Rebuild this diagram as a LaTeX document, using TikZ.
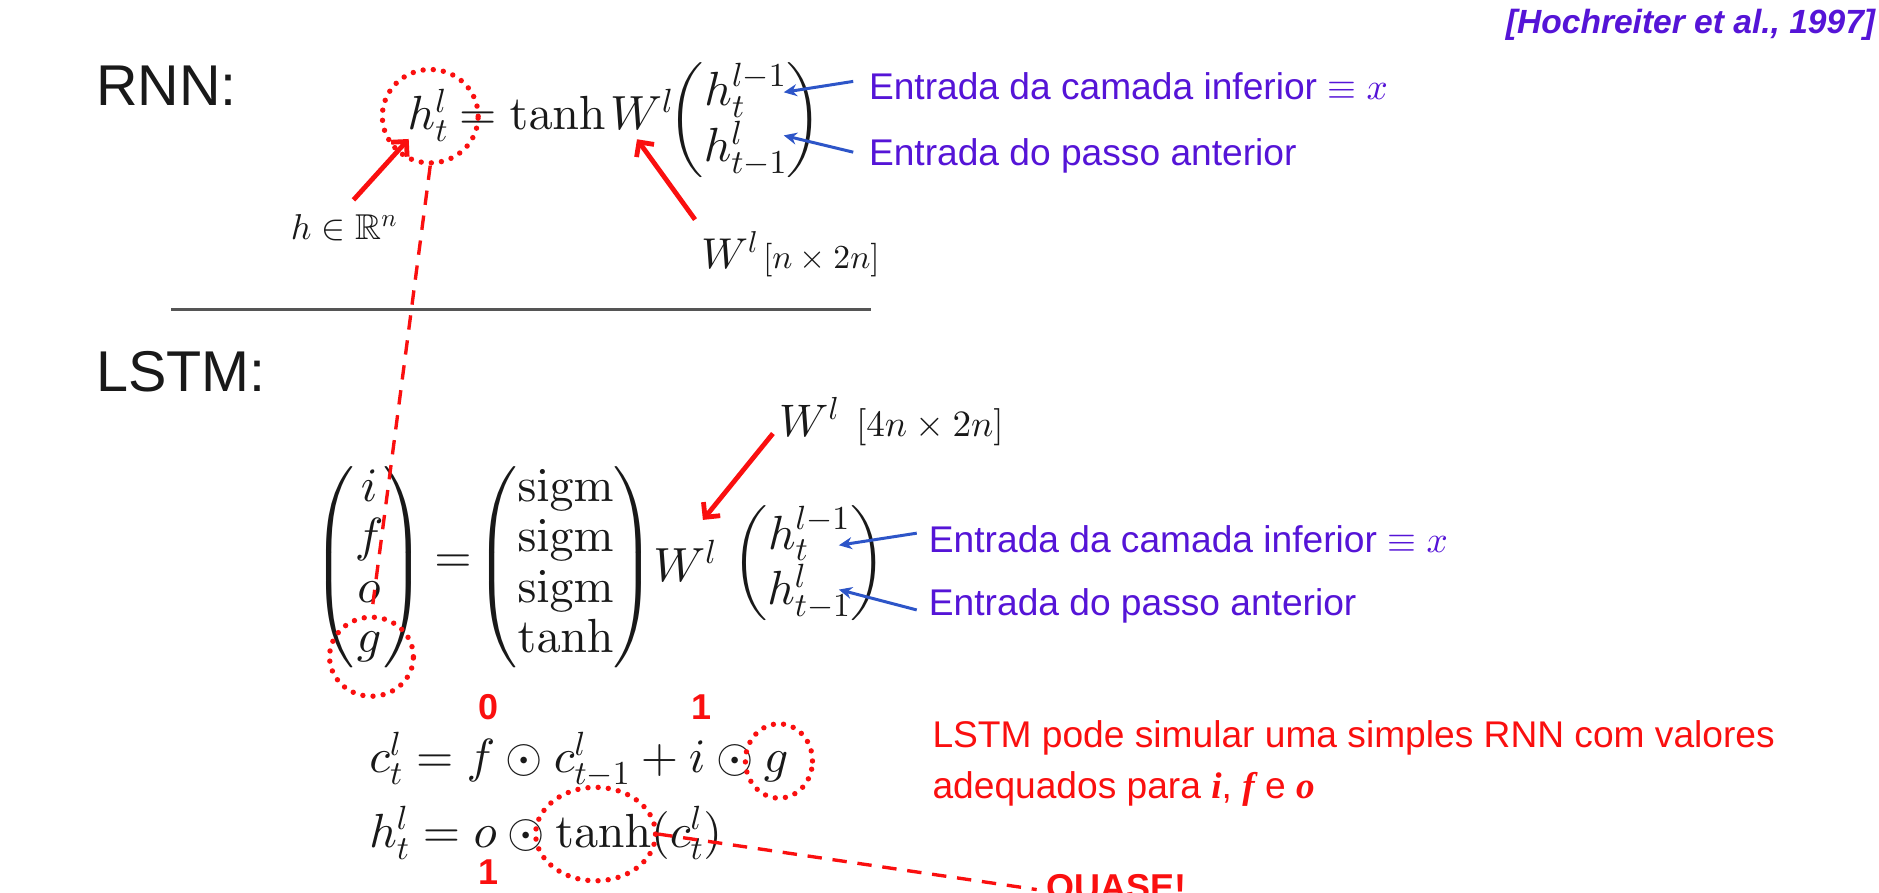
\documentclass[tikz,border=0pt]{standalone}
\usepackage{amsmath,amssymb}
\usepackage[no-math]{fontspec}
\newfontfamily\arial{Liberation Sans}
\newfontfamily\tnr{Liberation Serif}
\DeclareFontShape{OT1}{cmr}{m}{n}{<->cmr10}{}
\DeclareFontShape{OML}{cmm}{m}{it}{<->cmmi10}{}
\DeclareFontShape{OMS}{cmsy}{m}{n}{<->cmsy10}{}
\DeclareFontShape{OMX}{cmex}{m}{n}{<->cmex10}{}
\DeclareFontFamily{U}{msb}{}
\DeclareFontShape{U}{msb}{m}{n}{<->msbm10}{}
\usetikzlibrary{arrows.meta,calc,shapes.geometric}
\definecolor{redA}{RGB}{250,15,15}
\definecolor{blueT}{RGB}{85,20,215}
\definecolor{blueA}{RGB}{45,85,200}
\definecolor{ink}{RGB}{25,25,25}
\definecolor{grayL}{RGB}{85,85,85}
\tikzset{
  mR/.style={inner sep=0pt, text=ink, font=\fontsize{40}{42}\selectfont},
  mB/.style={inner sep=0pt, text=ink, font=\fontsize{40}{42}\selectfont},
  big/.style={inner sep=0pt, text=ink, font=\arial\fontsize{48}{52}\selectfont},
  lbl/.style={inner sep=0pt, text=blueT, font=\arial\fontsize{31}{36}\selectfont},
  rtxt/.style={inner sep=0pt, text=redA, font=\arial\fontsize{31}{36}\selectfont},
  num/.style={inner sep=0pt, text=redA, font=\arial\bfseries\fontsize{30}{32}\selectfont},
  citeT/.style={inner sep=0pt, text=blueT, font=\arial\bfseries\itshape\fontsize{28}{32}\selectfont},
  dotc/.style={ellipse, draw=redA, inner sep=0pt, line width=4.5pt, dash pattern=on 0pt off 8.5pt, line cap=round},
  dashl/.style={draw=redA, line width=2.8pt, dash pattern=on 12pt off 9pt},
  redarr/.style={draw=redA, line width=4pt, -{Straight Barb[length=9pt,width=18pt]}},
  bluearr/.style={draw=blueA, line width=2.5pt, -{Stealth[length=11pt,width=10pt]}},
  sepline/.style={draw=grayL, line width=2.5pt}
}
\begin{document}
\begin{tikzpicture}[x=1pt,y=-1pt]
\fill[white] (0,0) rectangle (1568,745);
\useasboundingbox (0,0) rectangle (1568,745);

\node[citeT, anchor=base east] (cite) at (1565,28) {[Hochreiter et al., 1997]};

\node[big, anchor=base west] (rnn) at (80,88) {RNN:};
\node[big, anchor=base west] (lstm) at (80,327) {LSTM:};

% RNN equation
\node[mR, anchor=base west] (hR) at (340,108) {$h_t^l$};
\node[mR, anchor=base west] (eqR) at (383,108) {$=\tanh$};
\node[mR, anchor=base west] (WR) at (509,108) {$W^l$};
\node[mR] (vR) at (622,100) {$\begin{pmatrix} h_t^{l-1}\\ h_{t-1}^l\end{pmatrix}$};
\node[dotc, minimum width=80, minimum height=78] (cR) at ($(hR.center)+(2,1)$) {};

\node[inner sep=0pt, text=ink, font=\fontsize{30}{32}\selectfont] (hlab) at (287,190) {$h\in\mathbb{R}^n$};
\node[inner sep=0pt, text=ink, anchor=base west] (wlab) at (585,224) {\fontsize{36}{38}\selectfont$W^l$\hspace{4pt}{\fontsize{28}{30}\selectfont$[n\times 2n]$}};

\draw[redarr] ($(hlab.north)+(8,-12)$) -- ($(cR.center)+(-18,19)$);
\draw[redarr] ($(wlab.north west)+(-5,-10)$) -- ($(WR.south)+(-4,8)$);

\node[lbl, anchor=base west] (bl1) at (725,83) {Entrada da camada inferior $\equiv x$};
\node[lbl, anchor=base west] (bl2) at (725,138) {Entrada do passo anterior};
\draw[bluearr] ($(bl1.west)+(-13,-4)$) -- ($(vR.center)+(32,-23)$);
\draw[bluearr] ($(bl2.west)+(-13,-3)$) -- ($(vR.center)+(32,13)$);

% separator
\coordinate (sepL) at (143,258);
\coordinate (sepR) at (727,258);
\draw[sepline] (sepL) -- (sepR);

% LSTM equation
\node[mR] (vL) at (308,473) {$\begin{pmatrix} i\\ f\\ o\\ g\end{pmatrix}$};
\node[mR] (eqL) at (378,470) {$=$};
\node[mR] (vS) at (472,473) {$\begin{pmatrix}\mathrm{sigm}\\ \mathrm{sigm}\\ \mathrm{sigm}\\ \tanh\end{pmatrix}$};
\node[mR, anchor=base west] (WL) at (545,485) {$W^l$};
\node[mR] (vH) at (675,470) {$\begin{pmatrix} h_t^{l-1}\\ h_{t-1}^l\end{pmatrix}$};
\node[dotc, minimum width=70, minimum height=66] (cG) at ($(vL.center)+(2,75)$) {};

\node[inner sep=0pt, text=ink, anchor=base west] (wlab2) at (650,364) {\fontsize{38}{40}\selectfont$W^l$\hspace{14pt}{\fontsize{31}{33}\selectfont$[4n\times 2n]$}};
\draw[redarr] ($(wlab2.west)+(-5,10)$) -- ($(WL.north)+(15,-17)$);

\node[lbl, anchor=base west] (bl3) at (775,461) {Entrada da camada inferior $\equiv x$};
\node[lbl, anchor=base west] (bl4) at (775,514) {Entrada do passo anterior};
\draw[bluearr] ($(bl3.west)+(-10,-5)$) -- ($(vH.center)+(25,-15)$);
\draw[bluearr] ($(bl4.west)+(-10,3)$) -- ($(vH.center)+(25,22)$);

\draw[dashl] (cR.south) -- (cG.north);

% bottom equations
\node[mB, anchor=base west] (ceq) at (308,645) {$c_t^l = f\odot c_{t-1}^l + i\odot g$};
\node[mB, anchor=base west] (heq) at (308,707) {$h_t^l = o\odot\tanh(c_t^l)$};
\node[num] (n0) at (408,590) {0};
\node[num] (n1) at (585,590) {1};
\node[num] (n2) at (408,728) {1};
\node[dotc, minimum width=56, minimum height=62] (cg2) at (650,635) {};
\node[dotc, minimum width=100, minimum height=78] (ct) at (497,696) {};

\node[rtxt, anchor=base west] (rt1) at (778,624) {LSTM pode simular uma simples RNN com valores};
\node[rtxt, anchor=base west] (rt2) at (778,666) {adequados para {\tnr\bfseries\itshape i}, {\tnr\bfseries\itshape f} e {\tnr\bfseries\itshape o}};

\node[inner sep=0pt, text=redA, font=\arial\bfseries\fontsize{30}{32}\selectfont, anchor=base west] (q) at (873,751) {QUASE!};
\draw[dashl, shorten >=8pt] (ct.east) -- (q.west);
\end{tikzpicture}
\end{document}
